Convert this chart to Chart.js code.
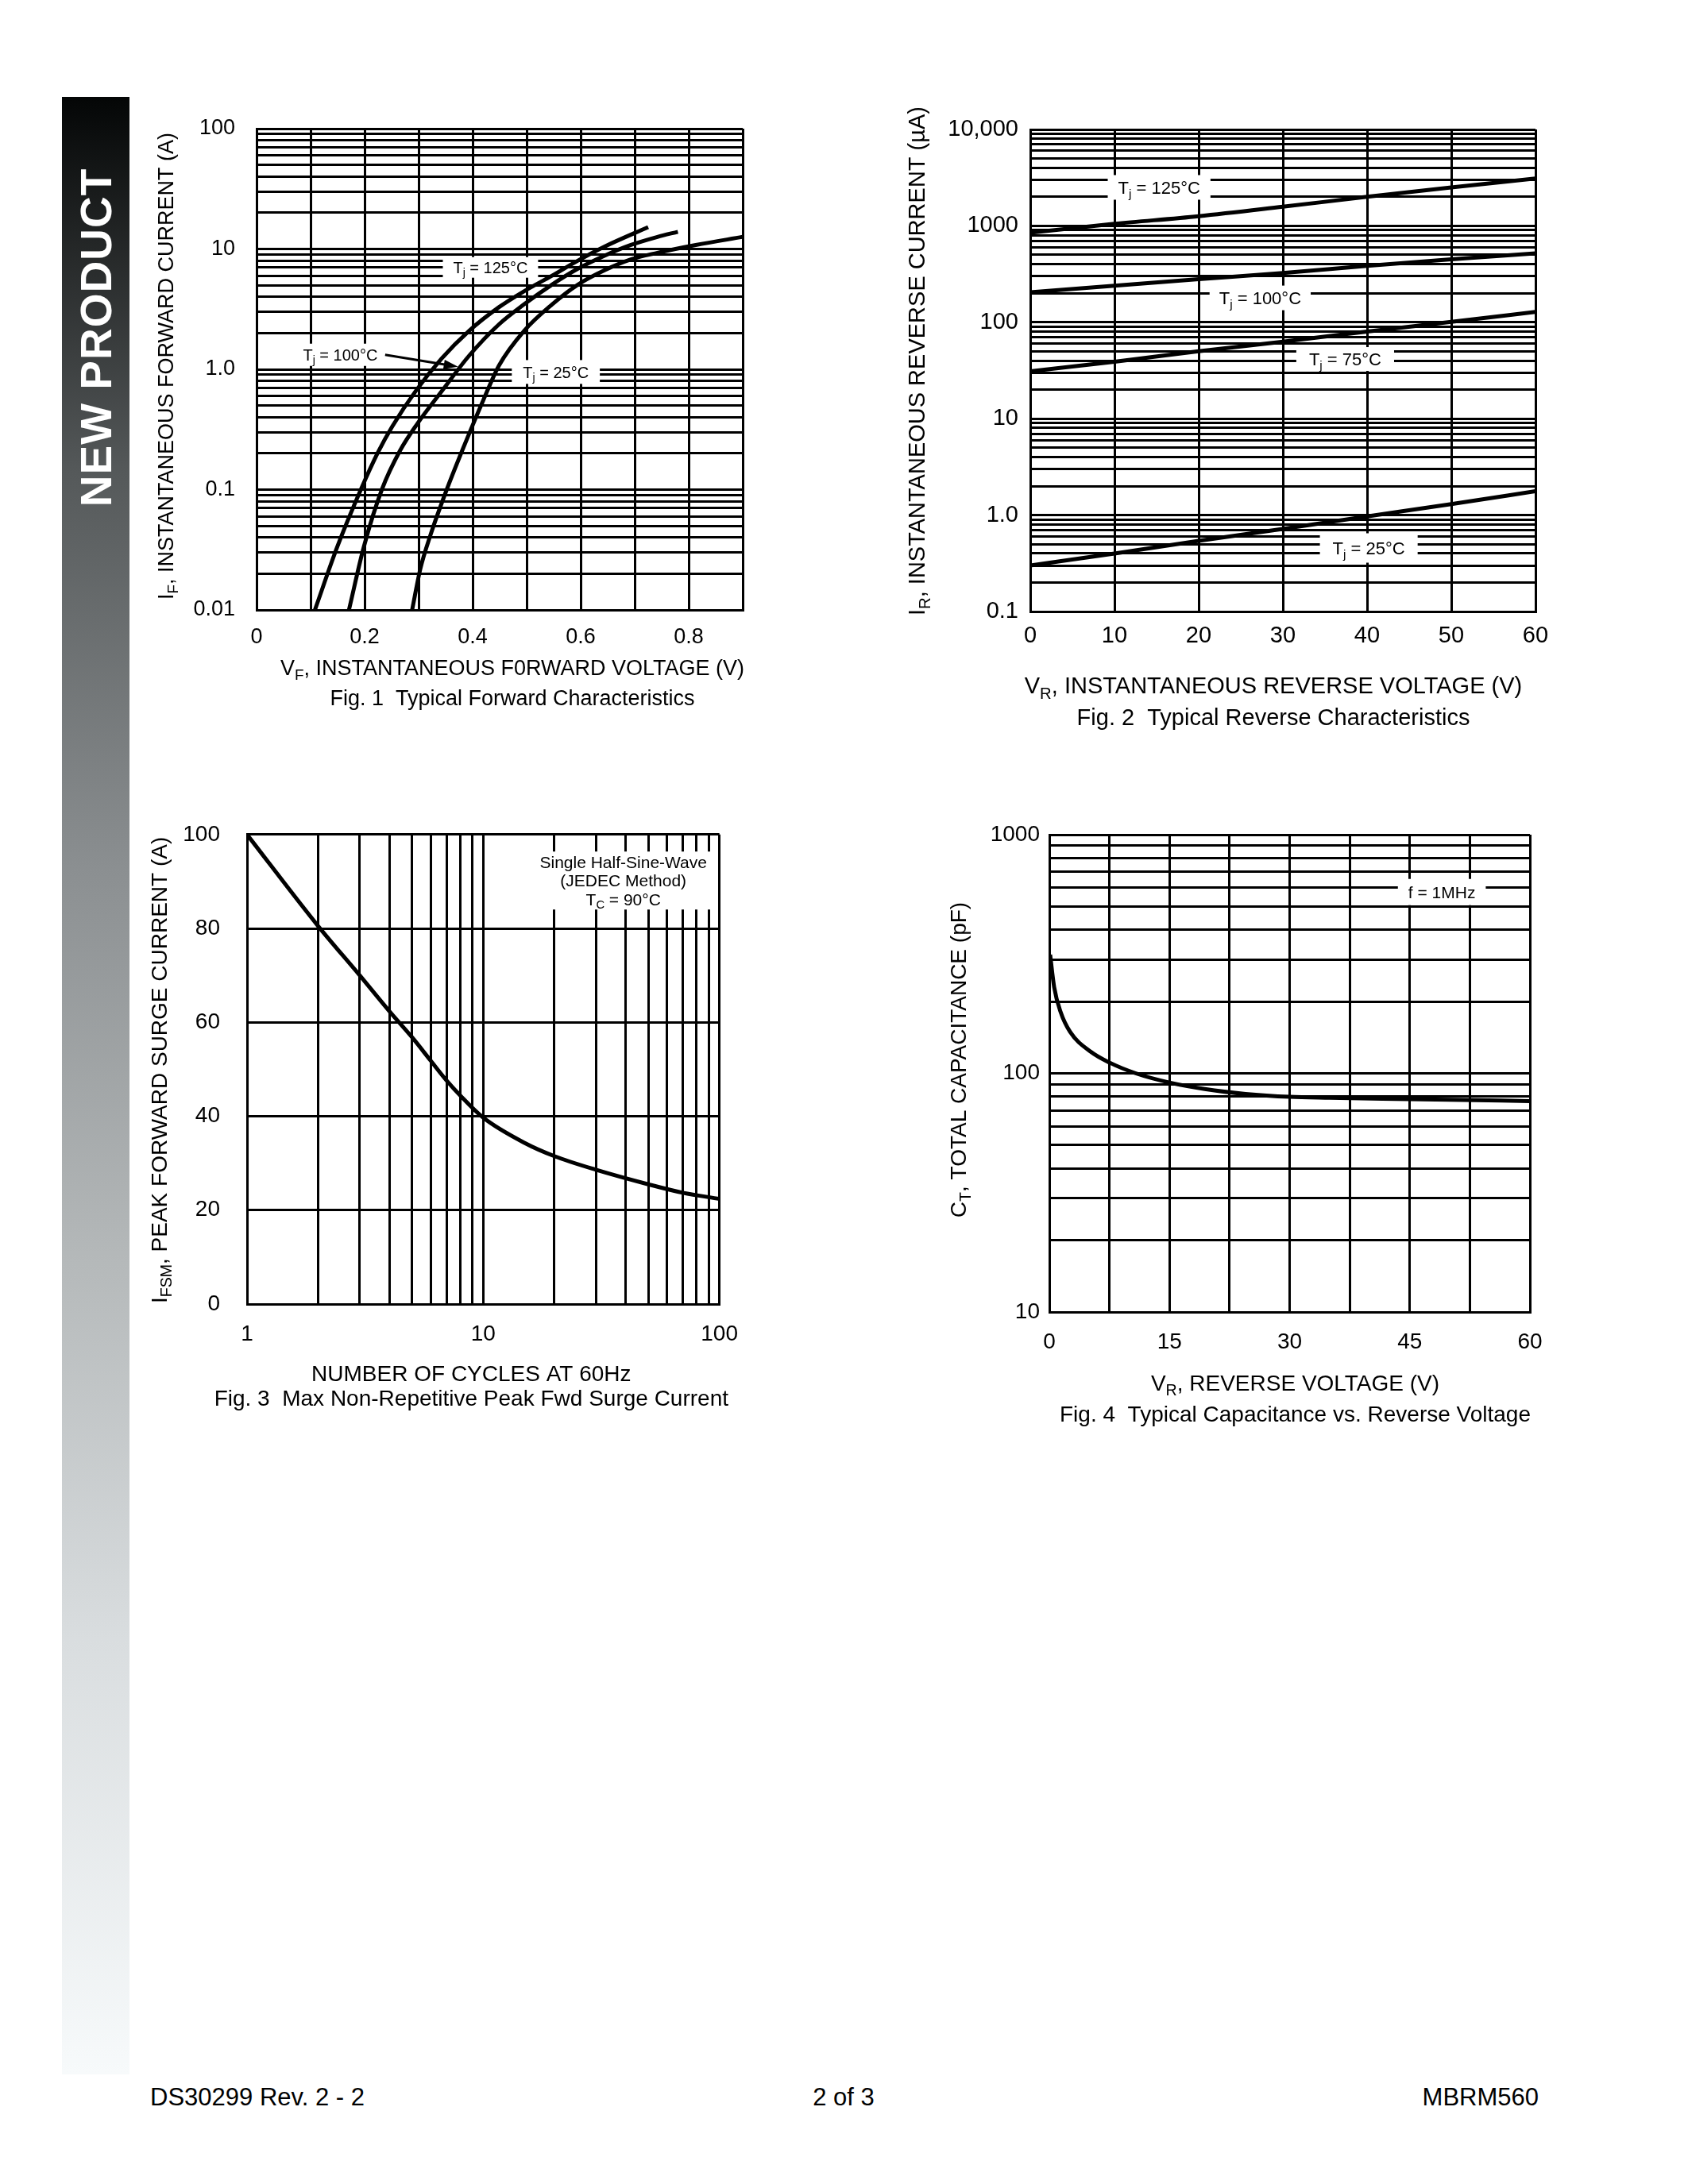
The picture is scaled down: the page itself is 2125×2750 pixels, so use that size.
<!DOCTYPE html>
<html>
<head>
<meta charset="utf-8">
<title>MBRM560 typical characteristics</title>
<script src="https://cdn.jsdelivr.net/npm/chart.js@4.4.1/dist/chart.umd.min.js"></script>
<style>
  body { margin: 0; background: #fff; width: 2125px; height: 2750px; position: relative;
         font-family: "Liberation Sans", Arial, sans-serif; color: #000; overflow: hidden; }
  canvas { position: absolute; }
  #sidebar { position: absolute; left: 78px; top: 122px; width: 85px; height: 2490px;
             background: linear-gradient(#040606 0%, #55595a 19%, #8b8f91 39%, #b5b9ba 59%, #d9dddf 78%, #f7fafb 100%); }
  #sidebar span { position: absolute; left: 50%; top: 303px; transform: translate(-50%, -50%) rotate(-90deg);
                  white-space: nowrap; color: #fff; font-weight: bold; font-size: 55px; letter-spacing: 1px; }
  .foot { position: absolute; top: 2623px; font-size: 31px; line-height: 36px; white-space: nowrap; }
</style>
</head>
<body>
<div id="sidebar"><span>NEW PRODUCT</span></div>

<canvas id="fig1" width="800" height="820" style="left:170px;top:100px"></canvas>
<canvas id="fig2" width="880" height="830" style="left:1110px;top:100px"></canvas>
<canvas id="fig3" width="790" height="800" style="left:160px;top:1000px"></canvas>
<canvas id="fig4" width="820" height="820" style="left:1150px;top:1000px"></canvas>

<div class="foot" style="left:189px">DS30299 Rev. 2 - 2</div>
<div class="foot" style="left:1062px;transform:translateX(-50%)">2 of 3</div>
<div class="foot" style="right:188px">MBRM560</div>

<script>
const PAGE_FONT = '"Liberation Sans", Arial, sans-serif';

// Fig. 1 - forward voltage (V) vs forward current (A)
const fig1VfTj125 = [0.108, 0.15, 0.193, 0.2245, 0.2514, 0.2954, 0.342, 0.393, 0.449, 0.495, 0.547, 0.595, 0.645, 0.725];
const fig1IfTj125 = [0.01, 0.034, 0.1, 0.203, 0.336, 0.667, 1.22, 2.08, 3.29, 4.45, 6.0, 8.0, 10.5, 15.2];
const fig1VfTj100 = [0.171, 0.1987, 0.2319, 0.2661, 0.2978, 0.342, 0.393, 0.449, 0.495, 0.547, 0.595, 0.645, 0.693, 0.742, 0.78];
const fig1IfTj100 = [0.01, 0.0336, 0.1, 0.213, 0.354, 0.65, 1.29, 2.37, 3.46, 5.06, 6.86, 8.83, 10.8, 12.6, 13.9];
const fig1VfTj25 = [0.288, 0.303, 0.322, 0.352, 0.381, 0.42, 0.449, 0.495, 0.547, 0.595, 0.645, 0.693, 0.742, 0.813, 0.9];
const fig1IfTj25 = [0.01, 0.0218, 0.042, 0.1, 0.213, 0.558, 1.08, 2.08, 3.46, 5.06, 6.68, 8.19, 9.29, 10.8, 12.6];
const fig1XTickValues = [0, 0.2, 0.4, 0.6, 0.8];
const fig1XTickLabels = ['0', '0.2', '0.4', '0.6', '0.8'];
const fig1YTickValues = [0.01, 0.1, 1, 10, 100];
const fig1YTickLabels = ['0.01', '0.1', '1.0', '10', '100'];

// Fig. 2 - reverse voltage (V) vs reverse current (uA)
const fig2Vr = [0, 10, 20, 30, 40, 50, 60];
const fig2IrTj125 = [850, 1050, 1260, 1580, 2000, 2500, 3100];
const fig2IrTj100 = [205, 240, 280, 325, 385, 450, 520];
const fig2IrTj75 = [31, 39, 50, 63, 80, 101, 128];
const fig2IrTj25 = [0.30, 0.40, 0.54, 0.72, 0.97, 1.30, 1.77];
const fig2XTickValues = [0, 10, 20, 30, 40, 50, 60];
const fig2XTickLabels = ['0', '10', '20', '30', '40', '50', '60'];
const fig2YTickValues = [0.1, 1, 10, 100, 1000, 10000];
const fig2YTickLabels = ['0.1', '1.0', '10', '100', '1000', '10,000'];

// Fig. 3 - number of cycles vs peak surge current (A)
const fig3Cycles = [1, 2, 3, 4, 5, 6, 7, 8, 10, 15, 20, 30, 50, 70, 100];
const fig3Ifsm = [100, 80.5, 70, 62.4, 56.8, 51.8, 47.6, 44.4, 39.7, 34.3, 31.5, 28.6, 25.5, 23.7, 22.4];
const fig3XTickValues = [1, 10, 100];
const fig3XTickLabels = ['1', '10', '100'];
const fig3YTickValues = [0, 20, 40, 60, 80, 100];
const fig3YTickLabels = ['0', '20', '40', '60', '80', '100'];

// Fig. 4 - reverse voltage (V) vs total capacitance (pF)
const fig4Vr = [0.1, 0.6, 1.4, 2.6, 5.2, 7.5, 10.8, 15, 19.4, 24.5, 30, 35, 45, 60];
const fig4Ct = [314, 230, 181, 149, 123, 111, 100, 91.5, 86, 82, 79.7, 79, 78, 76.5];
const fig4XTickValues = [0, 15, 30, 45, 60];
const fig4XTickLabels = ['0', '15', '30', '45', '60'];
const fig4YTickValues = [10, 100, 1000];
const fig4YTickLabels = ['10', '100', '1000'];

// grid line helpers
function linGrid(min, max, step) {
  const out = [];
  const n = Math.round((max - min) / step);
  for (let i = 0; i <= n; i++) out.push(+(min + i * step).toFixed(6));
  return out;
}
function logGrid(min, max) {
  const out = [];
  for (let d = min; d < max * 0.999; d *= 10) {
    for (let k = 1; k < 10; k++) out.push(+(d * k).toPrecision(6));
  }
  out.push(max);
  return out;
}

function fontStr(size) { return size + 'px ' + PAGE_FONT; }

// text with subscripts: parts = [[text, isSub], ...]
function richWidth(ctx, parts, size) {
  let w = 0;
  for (const [t, sub] of parts) {
    ctx.font = fontStr(sub ? size * 0.7 : size);
    w += ctx.measureText(t).width;
  }
  return w;
}
function drawRich(ctx, parts, cx, cy, size) {
  const w = richWidth(ctx, parts, size);
  let x = cx - w / 2;
  const base = cy + size * 0.36;
  ctx.textAlign = 'left';
  ctx.textBaseline = 'alphabetic';
  ctx.fillStyle = '#000';
  for (const [t, sub] of parts) {
    ctx.font = fontStr(sub ? size * 0.7 : size);
    ctx.fillText(t, x, sub ? base + size * 0.22 : base);
    x += ctx.measureText(t).width;
  }
}

function axis(type, min, max, grid, tickVals, tickLabels, size, pad, fixed) {
  return {
    type: type, min: min, max: max,
    afterBuildTicks: s => { s.ticks = grid.map(v => ({ value: v })); },
    afterFit: s => { if (s.isHorizontal()) s.height = fixed; else s.width = fixed; },
    grid: { color: '#000', lineWidth: 3, drawTicks: false },
    border: { color: '#000', width: 3 },
    ticks: {
      autoSkip: false, maxRotation: 0, padding: pad, color: '#000',
      font: { family: PAGE_FONT, size: size },
      callback: v => {
        const i = tickVals.findIndex(t => Math.abs(t - v) <= 1e-6 * Math.max(Math.abs(t), 1e-3));
        return i >= 0 ? tickLabels[i] : '';
      }
    }
  };
}

function decoPlugin(o) {
  return {
    id: 'deco',
    beforeDatasetsDraw(chart) {
      const ctx = chart.ctx, xs = chart.scales.x, ys = chart.scales.y;
      ctx.save();
      (o.notes || []).forEach(n => {
        const cx = xs.getPixelForValue(n.x), cy = ys.getPixelForValue(n.y);
        const lines = n.lines;
        const w = Math.max(...lines.map(l => richWidth(ctx, l, n.size))) + 2 * n.padX;
        ctx.fillStyle = '#fff';
        ctx.fillRect(cx - w / 2, cy - n.h / 2, w, n.h);
        lines.forEach((l, i) => drawRich(ctx, l, cx, cy + (i - (lines.length - 1) / 2) * n.lineGap, n.size));
      });
      (o.arrows || []).forEach(a => {
        const x0 = xs.getPixelForValue(a.from[0]), y0 = ys.getPixelForValue(a.from[1]);
        const x1 = xs.getPixelForValue(a.to[0]), y1 = ys.getPixelForValue(a.to[1]);
        const ang = Math.atan2(y1 - y0, x1 - x0);
        ctx.strokeStyle = '#000'; ctx.lineWidth = 3;
        ctx.beginPath(); ctx.moveTo(x0, y0);
        ctx.lineTo(x1 - 14 * Math.cos(ang), y1 - 14 * Math.sin(ang)); ctx.stroke();
        ctx.fillStyle = '#000';
        ctx.beginPath(); ctx.moveTo(x1, y1);
        ctx.lineTo(x1 - 18 * Math.cos(ang) + 6 * Math.sin(ang), y1 - 18 * Math.sin(ang) - 6 * Math.cos(ang));
        ctx.lineTo(x1 - 18 * Math.cos(ang) - 6 * Math.sin(ang), y1 - 18 * Math.sin(ang) + 6 * Math.cos(ang));
        ctx.closePath(); ctx.fill();
      });
      ctx.restore();
    },
    afterDraw(chart) {
      const ctx = chart.ctx, a = chart.chartArea;
      const mx = (a.left + a.right) / 2, my = (a.top + a.bottom) / 2;
      ctx.save();
      ctx.translate(o.yTitleX, my + o.yTitleDy);
      ctx.rotate(-Math.PI / 2);
      drawRich(ctx, o.yTitle, 0, 0, o.titleSize);
      ctx.restore();
      ctx.save();
      drawRich(ctx, o.xTitle, mx + o.titleDx, a.bottom + o.xTitleDy, o.titleSize);
      drawRich(ctx, [[o.caption, false]], mx + o.titleDx, a.bottom + o.captionDy, o.titleSize);
      ctx.restore();
    }
  };
}

function buildChart(id, o) {
  return new Chart(document.getElementById(id), {
    type: 'scatter',
    data: {
      datasets: o.series.map(s => ({
        data: s.xs.map((x, i) => ({ x: x, y: s.ys[i] })),
        showLine: true, borderColor: '#000', borderWidth: 5, pointRadius: 0,
        cubicInterpolationMode: 'monotone', fill: false
      }))
    },
    options: {
      responsive: false, animation: false, devicePixelRatio: 1,
      layout: { padding: { top: o.padTop, right: o.padRight, bottom: 0, left: 0 } },
      plugins: { legend: { display: false }, tooltip: { enabled: false } },
      scales: { x: o.x, y: o.y }
    },
    plugins: [decoPlugin(o)]
  });
}

const tj = t => [['T', false], ['j', true], [' = ' + t + '\u00B0C', false]];

buildChart('fig1', {
  series: [
    { xs: fig1VfTj125, ys: fig1IfTj125 },
    { xs: fig1VfTj100, ys: fig1IfTj100 },
    { xs: fig1VfTj25, ys: fig1IfTj25 }
  ],
  padTop: 62, padRight: 35,
  x: axis('linear', 0, 0.9, linGrid(0, 0.9, 0.1), fig1XTickValues, fig1XTickLabels, 27, 18, 152),
  y: axis('logarithmic', 0.01, 100, logGrid(0.01, 100), fig1YTickValues, fig1YTickLabels, 27, 27, 153),
  titleSize: 27, yTitleX: 38, yTitleDy: -4, titleDx: 16, xTitleDy: 72, captionDy: 110,
  yTitle: [['I', false], ['F', true], [', INSTANTANEOUS FORWARD CURRENT (A)', false]],
  xTitle: [['V', false], ['F', true], [', INSTANTANEOUS F0RWARD VOLTAGE (V)', false]],
  caption: 'Fig. 1  Typical Forward Characteristics',
  notes: [
    { x: 0.433, y: 7.03, lines: [tj('125')], size: 20, padX: 13, h: 26, lineGap: 0 },
    { x: 0.155, y: 1.32, lines: [tj('100')], size: 20, padX: 10, h: 28, lineGap: 0 },
    { x: 0.554, y: 0.95, lines: [tj('25')], size: 20, padX: 14, h: 30, lineGap: 0 }
  ],
  arrows: [{ from: [0.238, 1.32], to: [0.373, 1.05] }]
});

buildChart('fig2', {
  series: [
    { xs: fig2Vr, ys: fig2IrTj125 },
    { xs: fig2Vr, ys: fig2IrTj100 },
    { xs: fig2Vr, ys: fig2IrTj75 },
    { xs: fig2Vr, ys: fig2IrTj25 }
  ],
  padTop: 63, padRight: 57,
  x: axis('linear', 0, 60, linGrid(0, 60, 10), fig2XTickValues, fig2XTickLabels, 29, 14, 160),
  y: axis('logarithmic', 0.1, 10000, logGrid(0.1, 10000), fig2YTickValues, fig2YTickLabels, 29, 15, 187),
  titleSize: 29, yTitleX: 44, yTitleDy: -12, titleDx: -12, xTitleDy: 93, captionDy: 133,
  yTitle: [['I', false], ['R', true], [', INSTANTANEOUS REVERSE CURRENT (\u00B5A)', false]],
  xTitle: [['V', false], ['R', true], [', INSTANTANEOUS REVERSE VOLTAGE (V)', false]],
  caption: 'Fig. 2  Typical Reverse Characteristics',
  notes: [
    { x: 15.3, y: 2506, lines: [tj('125')], size: 22, padX: 13, h: 31, lineGap: 0 },
    { x: 27.3, y: 179, lines: [tj('100')], size: 22, padX: 12, h: 31, lineGap: 0 },
    { x: 37.4, y: 41.6, lines: [tj('75')], size: 22, padX: 16, h: 30, lineGap: 0 },
    { x: 40.2, y: 0.456, lines: [tj('25')], size: 22, padX: 16, h: 37, lineGap: 0 }
  ]
});

buildChart('fig3', {
  series: [{ xs: fig3Cycles, ys: fig3Ifsm }],
  padTop: 50, padRight: 44,
  x: axis('logarithmic', 1, 100, logGrid(1, 100), fig3XTickValues, fig3XTickLabels, 28, 21, 158),
  y: axis('linear', 0, 100, linGrid(0, 100, 20), fig3YTickValues, fig3YTickLabels, 28, 34, 151),
  titleSize: 28, yTitleX: 40, yTitleDy: 1, titleDx: -15, xTitleDy: 87, captionDy: 118,
  yTitle: [['I', false], ['FSM', true], [', PEAK FORWARD SURGE CURRENT (A)', false]],
  xTitle: [['NUMBER OF CYCLES AT 60Hz', false]],
  caption: 'Fig. 3  Max Non-Repetitive Peak Fwd Surge Current',
  notes: [
    { x: 39.2, y: 90.2, size: 21, padX: 6, h: 73, lineGap: 23.5,
      lines: [[['Single Half-Sine-Wave', false]], [['(JEDEC Method)', false]],
              [['T', false], ['C', true], [' = 90\u00B0C', false]]] }
  ]
});

buildChart('fig4', {
  series: [{ xs: fig4Vr, ys: fig4Ct }],
  padTop: 51, padRight: 44,
  x: axis('linear', 0, 60, linGrid(0, 60, 7.5), fig4XTickValues, fig4XTickLabels, 28, 21, 168),
  y: axis('logarithmic', 10, 1000, logGrid(10, 1000), fig4YTickValues, fig4YTickLabels, 28, 12, 171),
  titleSize: 28, yTitleX: 56, yTitleDy: -17, titleDx: 7, xTitleDy: 89, captionDy: 128,
  yTitle: [['C', false], ['T', true], [', TOTAL CAPACITANCE (pF)', false]],
  xTitle: [['V', false], ['R', true], [', REVERSE VOLTAGE (V)', false]],
  caption: 'Fig. 4  Typical Capacitance vs. Reverse Voltage',
  notes: [
    { x: 49.0, y: 575, lines: [[['f = 1MHz', false]]], size: 21, padX: 13, h: 33, lineGap: 0 }
  ]
});
</script>
</body>
</html>
